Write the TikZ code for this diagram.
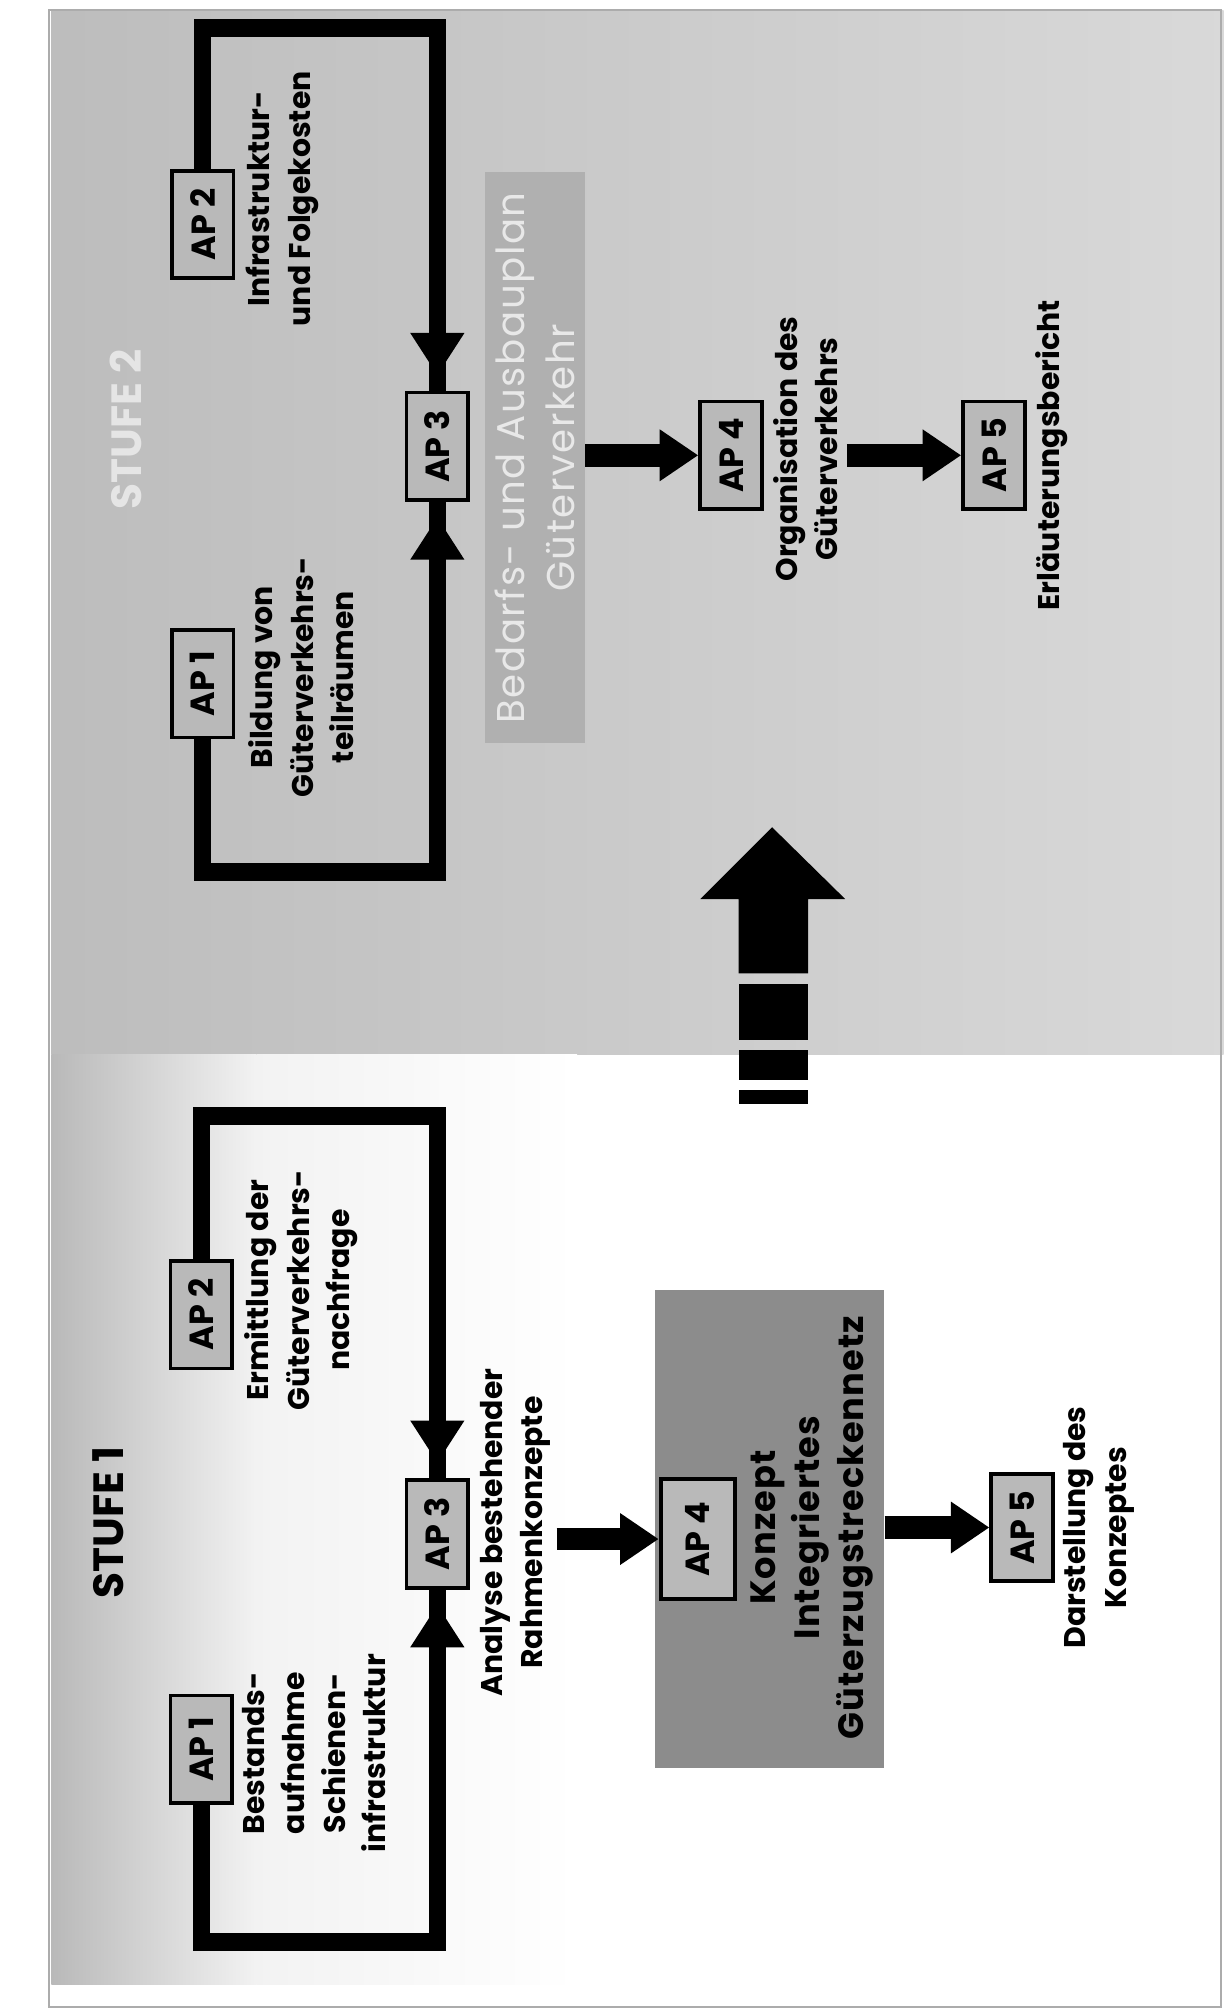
\documentclass[tikz,border=0pt]{standalone}
\usepackage{fontspec}
\setmainfont{Poppins}
\newfontfamily\widefont{Poppins}[LetterSpace=4]
\newfontfamily\wideboldfont{Poppins Bold}[LetterSpace=3]
\usetikzlibrary{arrows.meta,positioning}

\tikzset{
  apbox/.style={draw=black, line width=2.2pt, fill=gray!55, rotate=90,
    minimum width=2.15cm, minimum height=1.23cm, inner sep=0pt,
    font=\fontsize{19}{19}\selectfont\bfseries},
  lbl/.style={rotate=90, align=center, inner sep=1pt,
    font=\fontsize{17}{23}\selectfont\bfseries},
  frameline/.style={line width=10pt, line join=miter,
    -{Triangle[width=1.02cm,length=0.85cm]Rectangle[width=10pt,length=0.3cm]}},
  flowarrow/.style={line width=13pt, -{Triangle[width=0.98cm,length=0.77cm]}},
}

\begin{document}
\begin{tikzpicture}[x=0.0256cm, y=-0.0256cm]
  \useasboundingbox (0,0) rectangle (954,1568);
  % backgrounds
  \fill[white] (0,0) rectangle (954,1568);
  \shade[left color=gray!52, right color=gray!30] (40,8) rectangle (954,822);
  \shade[left color=gray!55, right color=gray!10] (40,822) rectangle (200,1547);
  \shade[left color=gray!10, right color=white] (200,822) rectangle (450,1547);
  \draw[gray!65, line width=1.2pt] (38,8) rectangle (952,1565);

  % STUFE 2
  \node[lbl, font=\fontsize{24}{24}\selectfont\bfseries, text=gray!20] (st2) at (98,335) {STUFE 2};
  \node[apbox] (s2ap2) at (158,175) {AP 2};
  \node[apbox] (s2ap1) at (158,533) {AP 1};
  \node[apbox] (s2ap3) at (341,348) {AP 3};
  \node[lbl] (s2t2) at (220,155) {Infrastruktur-\\und Folgekosten};
  \node[lbl] (s2t1) at (235,528) {Bildung von\\Güterverkehrs-\\teilräumen};
  \node[rotate=90, fill=gray!62, minimum width=11.4cm, minimum height=2cm,
    align=center, text=gray!18, font=\fontsize{22}{28}\selectfont\widefont] (plan) at (417,357)
    {Bedarfs- und Ausbauplan\\Güterverkehr};
  \node[apbox] (s2ap4) at (570,355) {AP 4};
  \node[lbl] (org) at (628,350) {Organisation des\\Güterverkehrs};
  \node[apbox] (s2ap5) at (775,355) {AP 5};
  \node[lbl] (bericht) at (820,355) {Erläuterungsbericht};

  \coordinate (s2top) at (250,22);
  \coordinate (s2bot) at (250,680);
  \draw[frameline] (s2ap2) |- (s2top) -| (s2ap3);
  \draw[frameline] (s2ap1) |- (s2bot) -| (s2ap3);
  \draw[flowarrow] (plan.south |- s2ap4) -- (s2ap4);
  \draw[flowarrow, shorten <=4pt] (org.south |- s2ap5) -- (s2ap5);

  % big arrow from stufe 1 to stufe 2
  \fill[black] (602,645) -- (659,701) -- (630,701) -- (630,759) -- (576,759)
    -- (576,701) -- (546,701) -- cycle;
  \fill[black] (576,767) rectangle (630,811);
  \fill[black] (576,819) rectangle (630,842);
  \fill[black] (576,850) rectangle (630,861);

  % STUFE 1
  \node[lbl, font=\fontsize{24}{24}\selectfont\bfseries] (st1) at (84,1187) {STUFE 1};
  \node[apbox] (s1ap2) at (157,1025) {AP 2};
  \node[apbox] (s1ap1) at (157,1364) {AP 1};
  \node[apbox] (s1ap3) at (341,1196) {AP 3};
  \node[lbl] (s1t2) at (235,1006) {Ermittlung der\\Güterverkehrs-\\nachfrage};
  \node[lbl] (s1t1) at (245,1367) {Bestands-\\aufnahme\\Schienen-\\infrastruktur};
  \node[lbl] (ana) at (402,1195) {Analyse bestehender\\Rahmenkonzepte};
  \node[rotate=90, fill=black!45, minimum width=9.55cm, minimum height=4.58cm] (konz) at (600,1192) {};
  \node[apbox, minimum width=2.4cm, minimum height=1.48cm] (s1ap4) at (544,1200) {AP 4};
  \node[lbl, font=\fontsize{20}{25}\selectfont\wideboldfont] (kt) at (633,1191)
    {Konzept\\Integriertes\\Güterzugstreckennetz};
  \node[apbox] (s1ap5) at (797,1191) {AP 5};
  \node[lbl] (dar) at (857,1191) {Darstellung des\\Konzeptes};

  \coordinate (s1top) at (250,870);
  \coordinate (s1bot) at (250,1514);
  \draw[frameline] (s1ap2) |- (s1top) -| (s1ap3);
  \draw[frameline] (s1ap1) |- (s1bot) -| (s1ap3);
  \draw[flowarrow, shorten <=2pt] (ana.south |- s1ap4) -- (s1ap4);
  \draw[flowarrow] (konz.south |- s1ap5) -- (s1ap5);
\end{tikzpicture}
\end{document}
